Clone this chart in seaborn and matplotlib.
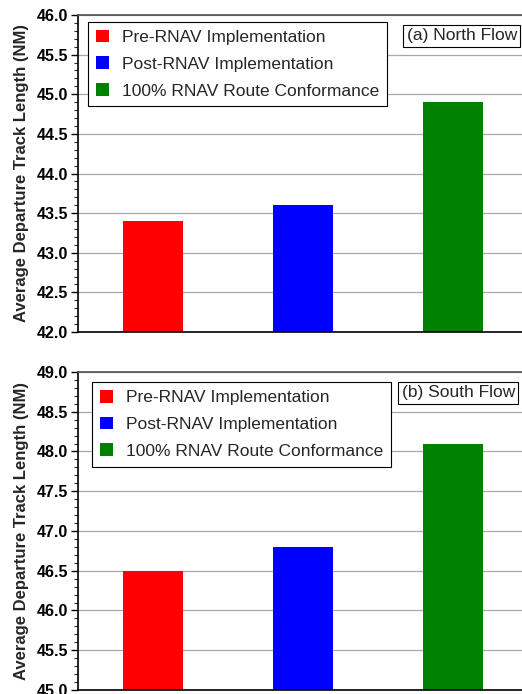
import matplotlib
matplotlib.use("Agg")
import matplotlib.pyplot as plt
from matplotlib.patches import Patch
from matplotlib.ticker import MultipleLocator, FormatStrFormatter
import seaborn as sns
import pandas as pd

categories = ["Pre-RNAV Implementation", "Post-RNAV Implementation", "100% RNAV Route Conformance"]
north_values = [43.4, 43.6, 44.9]
south_values = [46.5, 46.8, 48.1]
colors = ["#ff0000", "#0000ff", "#008000"]
panel_titles = ["(a) North Flow", "(b) South Flow"]
ylims = [(42.0, 46.0), (45.0, 49.0)]

sns.set_theme(style="white")
plt.rcParams["font.family"] = ["Liberation Sans", "DejaVu Sans"]

fig = plt.figure(figsize=(5.22, 6.94), dpi=100)
ax_top = fig.add_axes([0.1494, 0.5216, 0.862, 0.4568])
ax_bot = fig.add_axes([0.1494, 0.0058, 0.862, 0.4582])

legend_anchor = [(0.022, 0.978), (0.031, 0.968)]
title_anchor = [(0.853, 0.934), (0.845, 0.934)]

for ax, vals, title, ylim, lanc, tanc in zip([ax_top, ax_bot], [north_values, south_values],
                                             panel_titles, ylims, legend_anchor, title_anchor):
    df = pd.DataFrame({"cat": categories, "val": vals})
    sns.barplot(data=df, x="cat", y="val", hue="cat", palette=colors,
                width=0.4, legend=False, ax=ax, saturation=1, edgecolor="none")
    ax.set_ylim(*ylim)
    ax.set_xlim(-0.5, 2.5)
    ax.yaxis.set_major_locator(MultipleLocator(0.5))
    ax.yaxis.set_minor_locator(MultipleLocator(0.1))
    ax.yaxis.set_major_formatter(FormatStrFormatter("%.1f"))
    ax.grid(axis="y", which="major", color="#a8a8a8", linewidth=0.9)
    ax.set_axisbelow(True)
    ax.set_xticks([])
    ax.set_xlabel("")
    ax.tick_params(axis="y", which="major", direction="out", length=5, width=1,
                   left=True, labelsize=11.5, colors="black", pad=2)
    ax.tick_params(axis="y", which="minor", direction="out", length=3, width=0.8, left=True)
    for lbl in ax.get_yticklabels():
        lbl.set_fontweight("bold")
    for s in ["left", "bottom"]:
        ax.spines[s].set_color("black")
        ax.spines[s].set_linewidth(1.2)
    ax.spines["top"].set_color("#555555")
    ax.spines["right"].set_visible(False)

    handles = [Patch(facecolor=c, edgecolor="none", label=l) for c, l in zip(colors, categories)]
    leg = ax.legend(handles=handles, loc="upper left", bbox_to_anchor=lanc,
                    fontsize=12.5, frameon=True, fancybox=False, borderpad=0.45,
                    handlelength=0.75, handleheight=0.75, handletextpad=0.75,
                    labelspacing=0.65, borderaxespad=0.0)
    leg.get_frame().set_edgecolor("black")
    leg.get_frame().set_linewidth(0.8)
    leg.get_frame().set_alpha(1)

    ax.text(tanc[0], tanc[1], title, transform=ax.transAxes, fontsize=12.5, ha="center", va="center",
            bbox=dict(boxstyle="square,pad=0.2", facecolor="white", edgecolor="black", linewidth=0.8))

    ax.set_ylabel("Average Departure Track Length (NM)", fontsize=12, fontweight="bold")
    ax.yaxis.set_label_coords(-0.108, 0.5)

fig.savefig("out.png", dpi=100)
